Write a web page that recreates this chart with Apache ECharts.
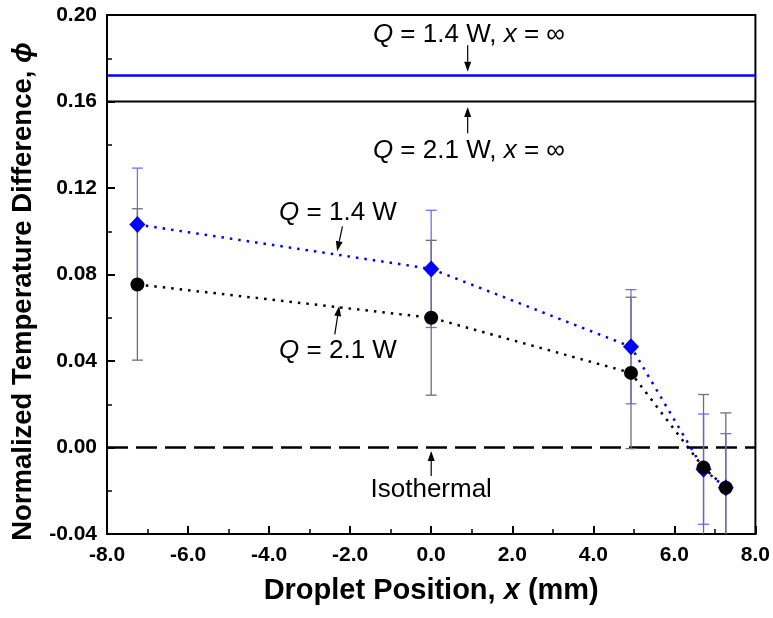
<!DOCTYPE html>
<html>
<head>
<meta charset="utf-8">
<script src="https://cdn.jsdelivr.net/npm/echarts@6/dist/echarts.min.js"></script>
<style>
html,body{margin:0;padding:0;background:#fff;}
#chart{width:773px;height:618px;}
</style>
</head>
<body>
<div id="chart"></div>
<script>
// ---- data ----
const xPos = [-7.25, 0, 4.93, 6.72, 7.27];
const phiQ14 = [0.1031, 0.0826, 0.0466, -0.0100, -0.0186];
const errQ14 = [0.0261, 0.0271, 0.0264, 0.0255, 0.0250];
const phiQ21 = [0.0754, 0.0600, 0.0345, -0.0093, -0.0186];
const errQ21 = [0.0350, 0.0358, 0.0350, 0.0338, 0.0346];
const infQ14 = 0.172;   // Q = 1.4 W, x = inf
const infQ21 = 0.160;   // Q = 2.1 W, x = inf
const isothermal = 0.0;
const xTicks = [-8, -6, -4, -2, 0, 2, 4, 6, 8];
const yTicks = [-0.04, 0.00, 0.04, 0.08, 0.12, 0.16, 0.20];
const labelTexts = ['{i|Q} = 1.4 W, {i|x} = ∞', '{i|Q} = 2.1 W, {i|x} = ∞', '{i|Q} = 1.4 W', '{i|Q} = 2.1 W', 'Isothermal'];
const labelX = [0.93, 0.93, -2.3, -2.3, 0];
const labelY = [0.1907, 0.1370, 0.1085, 0.0446, -0.0194];
const arrowFromX = [0.9, 0.9, -2.19, -2.38, 0];
const arrowFromY = [0.1860, 0.1453, 0.1023, 0.0523, -0.0132];
const arrowToX = [0.9, 0.9, -2.32, -2.27, 0];
const arrowToY = [0.1738, 0.1574, 0.0908, 0.0654, -0.0016];

const xMin = xTicks[0], xMax = xTicks[xTicks.length - 1];
const yMin = yTicks[0], yMax = yTicks[yTicks.length - 1];
const FONT = '"Liberation Sans", Arial, sans-serif';
const ANN = 26;

const chart = echarts.init(document.getElementById('chart'), null, {renderer: 'canvas'});

function errRender(color) {
  return function (params, api) {
    const x = api.value(0), y = api.value(1), e = api.value(2);
    const hiV = y + e, loV = y - e;
    const hi = api.coord([x, Math.min(hiV, yMax)]);
    const lo = api.coord([x, Math.max(loV, yMin)]);
    const children = [{
      type: 'line', shape: {x1: hi[0], y1: hi[1], x2: lo[0], y2: lo[1]},
      style: {stroke: color, lineWidth: 1.3}
    }];
    const cw = 5.5;
    if (hiV <= yMax) children.push({type: 'line', shape: {x1: hi[0] - cw, y1: hi[1], x2: hi[0] + cw, y2: hi[1]}, style: {stroke: color, lineWidth: 1.3}});
    if (loV >= yMin) children.push({type: 'line', shape: {x1: lo[0] - cw, y1: lo[1], x2: lo[0] + cw, y2: lo[1]}, style: {stroke: color, lineWidth: 1.3}});
    return {type: 'group', children: children};
  };
}

function annRender(params, api) {
  const i = params.dataIndex;
  const p = api.coord([labelX[i], labelY[i]]);
  const a = api.coord([arrowFromX[i], arrowFromY[i]]);
  const b = api.coord([arrowToX[i], arrowToY[i]]);
  const ang = Math.atan2(b[1] - a[1], b[0] - a[0]);
  const hl = 10, hw = 3.5;
  const bx = b[0] - hl * Math.cos(ang), by = b[1] - hl * Math.sin(ang);
  const nx = -Math.sin(ang), ny = Math.cos(ang);
  return {
    type: 'group',
    children: [
      {type: 'text', style: {
        text: labelTexts[i], x: p[0], y: p[1], align: 'center', verticalAlign: 'middle',
        font: ANN + 'px ' + FONT, fill: '#000',
        rich: {i: {fontStyle: 'italic', fontSize: ANN, fontFamily: FONT}}
      }},
      {type: 'line', shape: {x1: a[0], y1: a[1], x2: bx, y2: by}, style: {stroke: '#000', lineWidth: 1.2}},
      {type: 'polygon', shape: {points: [[b[0], b[1]], [bx + nx * hw, by + ny * hw], [bx - nx * hw, by - ny * hw]]}, style: {fill: '#000'}}
    ]
  };
}

const option = {
  animation: false,
  backgroundColor: '#fff',
  grid: {left: 107, right: 17, top: 15, bottom: 84, show: true, borderColor: '#000', borderWidth: 2, backgroundColor: 'transparent'},
  xAxis: {
    type: 'value', min: xMin, max: xMax, interval: 2,
    name: '{b|Droplet Position, }{bi|x}{b| (mm)}', nameLocation: 'middle', nameGap: 42,
    nameTextStyle: {verticalAlign: 'top', rich: {b: {fontSize: 29, fontWeight: 'bold', fontFamily: FONT, color: '#000'}, bi: {fontSize: 29, fontWeight: 'bold', fontStyle: 'italic', fontFamily: FONT, color: '#000'}}},
    axisLine: {show: true, onZero: false, lineStyle: {color: '#000', width: 2}},
    axisTick: {show: true, inside: true, length: 8, lineStyle: {color: '#000', width: 2}},
    minorTick: {show: true, splitNumber: 2, length: 5, lineStyle: {color: '#000', width: 1.5}},
    splitLine: {show: false},
    axisLabel: {margin: 11, fontSize: 21, fontWeight: 'bold', fontFamily: FONT, color: '#000', formatter: v => v.toFixed(1)}
  },
  yAxis: {
    type: 'value', min: yMin, max: yMax, interval: 0.04,
    name: '{b|Normalized Temperature Difference, }{bi|ϕ}', nameLocation: 'middle', nameGap: 70, nameRotate: 90,
    nameTextStyle: {padding: [0, 34, 0, 0], rich: {b: {fontSize: 27.5, fontWeight: 'bold', fontFamily: FONT, color: '#000'}, bi: {fontSize: 27.5, fontWeight: 'bold', fontStyle: 'italic', fontFamily: FONT, color: '#000'}}},
    axisLine: {show: true, onZero: false, lineStyle: {color: '#000', width: 2}},
    axisTick: {show: true, inside: true, length: 8, lineStyle: {color: '#000', width: 2}},
    minorTick: {show: true, splitNumber: 2, length: 5, lineStyle: {color: '#000', width: 1.5}},
    splitLine: {show: false},
    axisLabel: {margin: 10, fontSize: 21, fontWeight: 'bold', fontFamily: FONT, color: '#000', formatter: v => v.toFixed(2)}
  },
  series: [
    {type: 'line', data: [[xMin, infQ14], [xMax, infQ14]], symbol: 'none', lineStyle: {color: '#0000ff', width: 2.5}, z: 2, silent: true},
    {type: 'line', data: [[xMin, infQ21], [xMax, infQ21]], symbol: 'none', lineStyle: {color: '#000', width: 2}, z: 2, silent: true},
    {type: 'line', data: [[xMin, isothermal], [xMax, isothermal]], symbol: 'none', lineStyle: {color: '#000', width: 2.5, type: [21, 8]}, z: 2, silent: true},
    {type: 'custom', data: xPos.map((x, i) => [x, phiQ14[i], errQ14[i]]), renderItem: errRender('#6f6fff'), z: 3, silent: true},
    {type: 'custom', data: xPos.map((x, i) => [x, phiQ21[i], errQ21[i]]), renderItem: errRender('#707070'), z: 3, silent: true},
    {type: 'line', data: xPos.map((x, i) => [x, phiQ14[i]]), symbol: 'diamond', symbolSize: [16, 17],
      itemStyle: {color: '#0000ff'}, lineStyle: {color: '#0000ff', width: 2.5, type: [2.5, 6]}, z: 4},
    {type: 'line', data: xPos.map((x, i) => [x, phiQ21[i]]), symbol: 'circle', symbolSize: 14,
      itemStyle: {color: '#000'}, lineStyle: {color: '#000', width: 2.5, type: [2.5, 6]}, z: 5},
    {type: 'custom', data: labelTexts.map((t, i) => [labelX[i], labelY[i]]), renderItem: annRender, z: 6, silent: true}
  ]
};
chart.setOption(option);
</script>
</body>
</html>
